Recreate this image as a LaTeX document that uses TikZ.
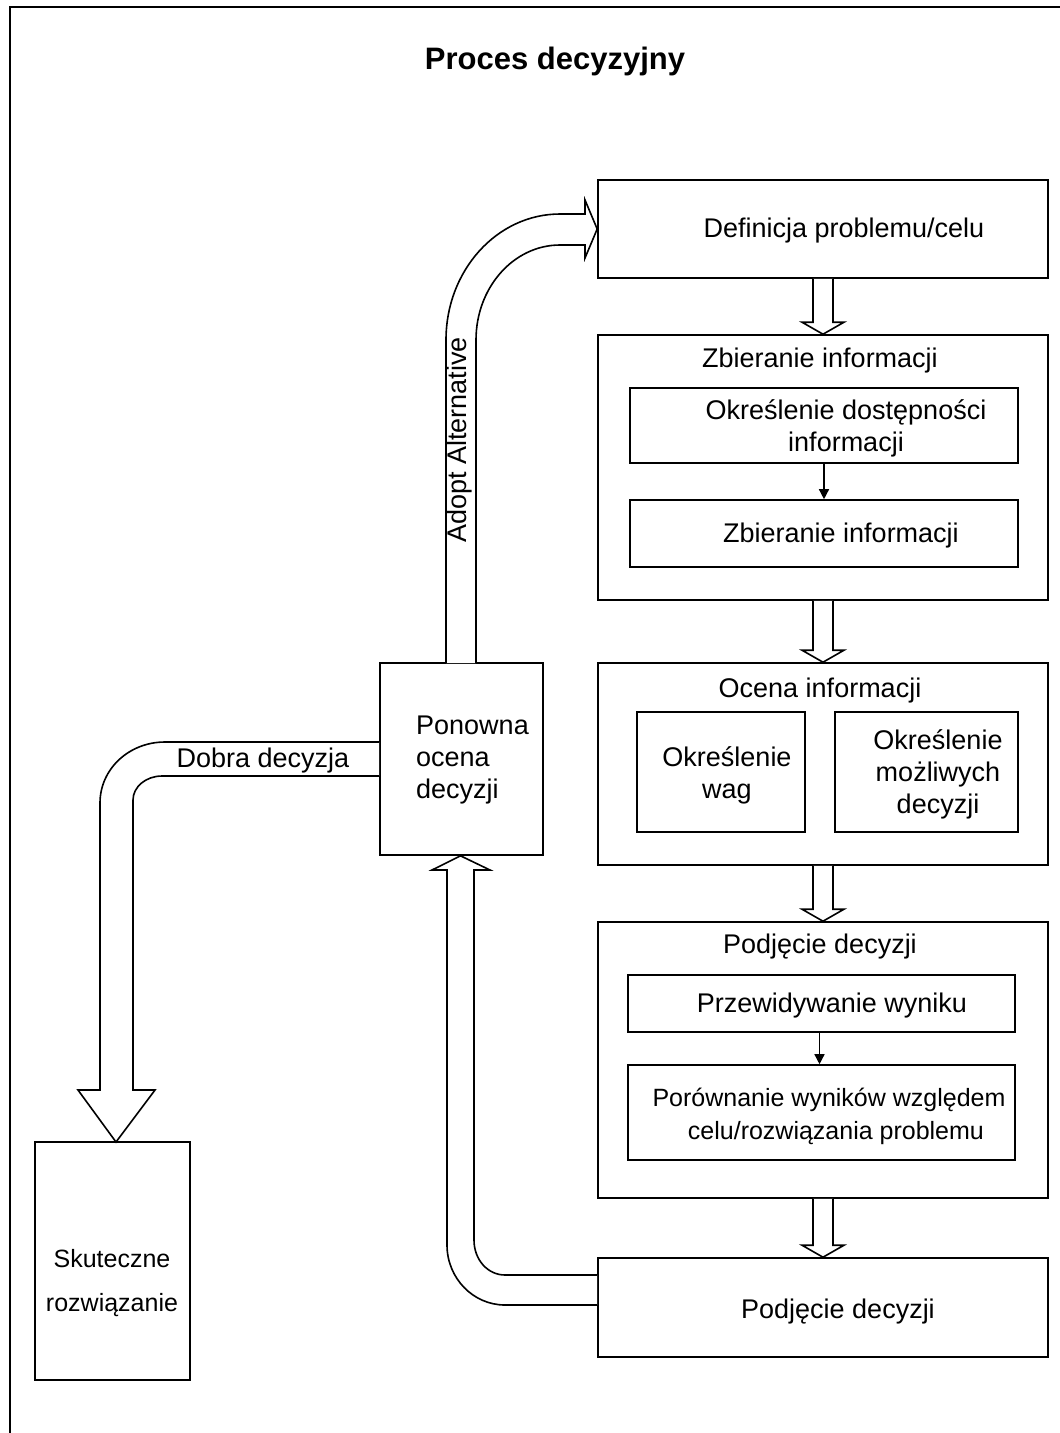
\documentclass[tikz,border=0pt]{standalone}
\usepackage{fontspec}
\setmainfont{Liberation Sans}
\usetikzlibrary{calc,arrows.meta}
\begin{document}
\begin{tikzpicture}[x=1pt,y=-1pt,
  box/.style={draw,line width=1.6pt,inner sep=0pt,fill=white},
  txt/.style={inner sep=0pt,align=center,yshift=-3pt,font=\fontsize{27}{32}\selectfont},
  small/.style={font=\fontsize{25}{33}\selectfont},
  fat/.style={draw,line width=1.6pt,fill=white,line join=miter},
  thin/.style={line width=1.4pt,-{Triangle[length=10pt,width=10pt]}}]
\useasboundingbox (0,0) rectangle (1060,1433);
% frame
\draw[line width=1.6pt] (10,1433) -- (10,7) -- (1060,7);
\node[inner sep=0pt,yshift=-3pt,font=\bfseries\fontsize{31}{36}\selectfont] (title) at (555,58) {Proces decyzyjny};
% boxes
\node[box,minimum width=450pt,minimum height=98pt] (def) at (823,229) {};
\node[txt] (deft) at (844,228) {Definicja problemu/celu};
\node[box,minimum width=450pt,minimum height=265pt] (zb) at (823,467.5) {};
\node[txt] (zbt) at (820,358) {Zbieranie informacji};
\node[box,minimum width=388pt,minimum height=75pt] (zb1) at (824,425.5) {};
\node[txt] (zb1t) at (846,425) {Określenie dostępności\\informacji};
\node[box,minimum width=388pt,minimum height=67pt] (zb2) at (824,533.5) {};
\node[txt] (zb2t) at (841,533) {Zbieranie informacji};
\node[box,minimum width=450pt,minimum height=202pt] (oc) at (823,764) {};
\node[txt] (oct) at (820,688) {Ocena informacji};
\node[box,minimum width=168pt,minimum height=120pt] (oc1) at (721,772) {};
\node[txt] (oc1t) at (727,772) {Określenie\\wag};
\node[box,minimum width=183pt,minimum height=120pt] (oc2) at (926.5,772) {};
\node[txt] (oc2t) at (938,771) {Określenie\\możliwych\\decyzji};
\node[box,minimum width=450pt,minimum height=276pt] (pd) at (823,1060) {};
\node[txt] (pdt) at (820,944) {Podjęcie decyzji};
\node[box,minimum width=387pt,minimum height=57pt] (pd1) at (821.5,1003.5) {};
\node[txt] (pd1t) at (832,1003) {Przewidywanie wyniku};
\node[box,minimum width=387pt,minimum height=95pt] (pd2) at (821.5,1112.5) {};
\node[txt,small] (pd2t) at (829,1113) {Porównanie wyników względem\\\ \ celu/rozwiązania problemu};
\node[box,minimum width=450pt,minimum height=99pt] (fin) at (823,1307.5) {};
\node[txt] (fint) at (838,1309) {Podjęcie decyzji};
\node[box,minimum width=163pt,minimum height=192pt] (pon) at (461.5,759) {};
\node[txt,align=left,anchor=west] (pont) at (416,757) {Ponowna\\ocena\\decyzji};
\node[box,minimum width=155pt,minimum height=238pt] (sk) at (112.5,1261) {};
\node[txt,font=\fontsize{25}{44}\selectfont] (skt) at (112,1280) {Skuteczne\\rozwiązanie};
% fat down arrows
\newcommand\fatdown[2]{\draw[fat] let \p1=(#1.south), \p2=(#2.north) in
  (\x1-10pt,\y1) -- (\x1-10pt,\y2+12pt) -- (\x1-21pt,\y2+12pt) -- (\x1,\y2)
  -- (\x1+21pt,\y2+12pt) -- (\x1+10pt,\y2+12pt) -- (\x1+10pt,\y1);}
\fatdown{def}{zb}
\fatdown{zb}{oc}
\fatdown{oc}{pd}
\fatdown{pd}{fin}
% thin arrows
\draw[thin] (zb1.south) -- (zb2.north);
\draw[thin] ($(pd1.south)+(-2,0)$) -- ($(pd2.north)+(-2,0)$);
% Adopt Alternative arrow
\draw[fat] (446,663) -- (446,340) .. controls (446,270.4) and (497,214) .. (560,214)
  -- (585,214) -- (585,200) -- (def.west) -- (585,258) -- (585,245) -- (560,245)
  .. controls (513.6,245) and (476,287.5) .. (476,340) -- (476,663);
\node[txt,rotate=90,yshift=0pt] (adopt) at (460,437) {Adopt Alternative};
% Dobra decyzja arrow
\draw[fat] (pon.west |- 0,742) -- (165,742) .. controls (129,742) and (100,769) .. (100,803)
  -- (100,1090) -- (78,1090) -- (116,1142) -- (155,1090) -- (133,1090) -- (133,800)
  .. controls (133,786.8) and (146,776) .. (162,776) -- (pon.west |- 0,776);
\node[txt] (dobra) at (263,758) {Dobra decyzja};
% return arrow
\draw[fat] (fin.west |- 0,1275) -- (505,1275) .. controls (488,1275) and (474,1260) .. (474,1240)
  -- (474,870) -- (490,870) -- (pon.south -| 460.5,0) -- (432,870) -- (447,870) -- (447,1245)
  .. controls (447,1278) and (473,1305) .. (505,1305) -- (fin.west |- 0,1305);
\end{tikzpicture}
\end{document}
